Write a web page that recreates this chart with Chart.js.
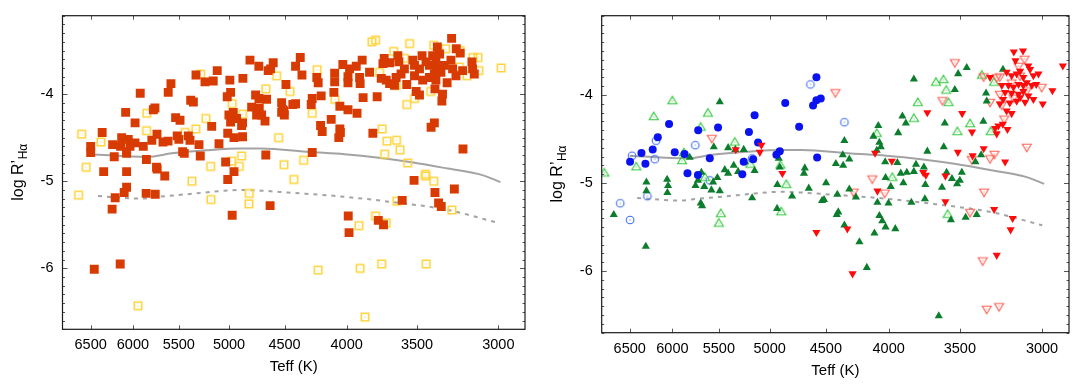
<!DOCTYPE html>
<html><head><meta charset="utf-8">
<script src="https://cdn.jsdelivr.net/npm/chart.js@4.4.1/dist/chart.umd.min.js"></script>
<style>
html,body{margin:0;padding:0;background:#fff;}
#wrap{position:relative;width:1087px;height:384px;overflow:hidden;}
.pane{position:absolute;top:0;height:384px;}
#p1{left:0;width:540px;} #p2{left:540px;width:547px;}
canvas{display:block;}
</style></head><body>
<div id="wrap">
<div class="pane" id="p1"><canvas id="c1" width="540" height="384"></canvas></div>
<div class="pane" id="p2"><canvas id="c2" width="547" height="384"></canvas></div>
</div>
<script>
const FONT = "'Liberation Sans', Arial, Helvetica, sans-serif";
const X_TICKS = [6500, 6000, 5500, 5000, 4500, 4000, 3500, 3000];
const Y_TICKS = [-6, -5, -4];
const Y_MIN = -6.7, Y_MAX = -3.1;
const X_TITLE = 'Teff (K)';
const Y_TITLE_MAIN = 'log R\u2019';
const Y_TITLE_SUB = 'H\u03B1';

// reference curves (shared by both panels)
const SOLID_TEFF = [6500, 5834, 5573, 5220, 4889, 4703, 4290, 4018, 3764, 3525, 3301, 3092, 2988];
const SOLID_LOGR = [-4.69, -4.72, -4.68, -4.645, -4.625, -4.625, -4.665, -4.69, -4.73, -4.785, -4.855, -4.93, -5.01];
const DASH_TEFF = [6410, 6265, 5920, 5727, 5420, 5146, 4897, 4686, 4471, 4080, 3664, 3300, 2999];
const DASH_LOGR = [-5.17, -5.18, -5.20, -5.18, -5.15, -5.12, -5.10, -5.11, -5.13, -5.17, -5.24, -5.33, -5.48];

// left panel
const L_FILLED_TEFF = [4805,4725,4642,4598,4621,4870,4992,5113,5323,5233,5152,5582,5611,5917,5377,5350,4985,5017,4754,4724,4656,4525,4505,4525,5754,5772,6083,5975,5533,5487,5167,5001,4960,4985,4929,4873,4882,4790,4721,4745,4700,4670,6360,6500,6500,6235,6129,6053,6141,6033,5976,6072,5883,5788,5732,5667,5613,5516,5499,5401,5384,5293,5096,5012,4953,4873,6216,6072,5848,5460,5443,5280,5032,4663,6342,6072,5737,5730,5648,4953,6072,6100,6205,6241,5851,5751,5012,4970,4625,6456,6146,
3278,3249,3225,3368,3353,4368,4407,4354,4488,4233,4222,4092,4092,4029,3978,3928,3884,3990,3990,3903,3899,3830,3725,3734,3687,3630,3623,3746,3711,3687,3653,3642,3608,3585,3569,3528,3517,3484,3467,3441,3419,3398,3377,3372,3345,3324,3282,3272,3251,3210,3154,3140,3150,3517,3463,3419,3387,3377,3306,3506,3484,3383,3335,3339,4517,4502,4270,4278,4198,4430,4407,4098,4052,3990,3922,3877,3775,4119,4203,4190,4052,4048,4060,3806,3387,3408,3208,4270,3520,3383,3261,3360,3343,3600,3988,3982,3767,3730];
const L_FILLED_LOGR = [-3.61,-3.68,-3.73,-3.64,-3.71,-3.82,-3.84,-3.73,-3.78,-3.86,-3.85,-3.88,-3.98,-3.99,-4.07,-4.09,-3.98,-4.03,-4.01,-4.05,-4.06,-4.10,-4.19,-4.21,-4.16,-4.18,-4.21,-4.33,-4.27,-4.30,-4.37,-4.24,-4.21,-4.32,-4.28,-4.33,-4.36,-4.15,-4.16,-4.24,-4.24,-4.31,-4.44,-4.60,-4.67,-4.58,-4.50,-4.52,-4.60,-4.60,-4.56,-4.66,-4.60,-4.53,-4.46,-4.55,-4.54,-4.48,-4.52,-4.48,-4.53,-4.58,-4.57,-4.45,-4.50,-4.49,-4.72,-4.68,-4.75,-4.66,-4.68,-4.71,-4.78,-4.70,-4.89,-4.89,-4.84,-4.86,-4.94,-4.89,-5.07,-5.13,-5.19,-5.32,-5.14,-5.15,-4.98,-5.39,-5.28,-6.01,-5.95,
-3.36,-3.48,-3.53,-3.46,-3.54,-3.58,-3.68,-3.78,-3.89,-3.81,-3.87,-3.76,-3.86,-3.66,-3.71,-3.68,-3.61,-3.80,-3.87,-3.81,-3.88,-3.75,-3.59,-3.65,-3.64,-3.56,-3.63,-3.82,-3.84,-3.88,-3.90,-3.81,-3.77,-3.71,-3.89,-3.61,-3.67,-3.71,-3.56,-3.63,-3.67,-3.56,-3.63,-3.71,-3.75,-3.67,-3.61,-3.71,-3.79,-3.73,-3.63,-3.77,-3.71,-3.79,-3.84,-3.81,-3.77,-3.84,-3.87,-3.97,-4.01,-3.94,-4.00,-4.08,-4.18,-4.24,-4.05,-4.12,-4.02,-4.12,-4.11,-3.98,-4.14,-4.18,-4.22,-4.04,-4.03,-4.29,-4.36,-4.43,-4.40,-4.44,-4.50,-4.45,-4.33,-4.38,-4.63,-4.67,-4.99,-5.13,-5.09,-5.25,-5.29,-5.22,-5.40,-5.59,-5.45,-5.50];
const L_OPEN_TEFF = [6612,6375,6556,5843,5846,5325,5434,5224,5276,4970,4873,4663,4568,4551,4882,4976,4904,5177,4505,6651,5364,5174,4812,4815,5942,3813,3787,3550,3659,4230,4453,4090,4270,3569,3517,3411,3391,3315,3225,3148,3118,3113,3184,3229,2984,3739,3706,3639,3615,3722,3563,4340,3444,3642,3758,3585,4422,3444,3391,3637,3276,3908,3787,3711,4222,3899,3743,3440,3863];
const L_OPEN_LOGR = [-4.46,-4.55,-4.84,-4.22,-4.42,-4.40,-4.44,-4.28,-3.77,-4.11,-4.23,-3.94,-3.79,-4.50,-4.71,-4.77,-4.83,-4.83,-4.81,-5.16,-5.00,-5.21,-5.14,-5.26,-6.43,-3.40,-3.38,-3.42,-3.51,-3.72,-3.97,-4.06,-4.22,-4.12,-4.05,-3.97,-3.44,-3.48,-3.50,-3.58,-3.58,-3.73,-3.79,-3.69,-3.70,-4.40,-4.54,-4.53,-4.64,-4.69,-4.79,-4.76,-4.92,-3.90,-3.75,-3.59,-4.98,-4.94,-5.00,-5.23,-5.33,-5.51,-5.40,-5.48,-6.02,-6.00,-5.95,-5.95,-6.56];

// right panel
const BLUE_FILLED_TEFF = [4580,4580,4543,4609,4856,4731,5143,5198,5110,5508,5717,6038,6167,6226,5974,6359,6312,6496,5594,5865,4906,4937,4574,5249,5157,5833,5720,5263];
const BLUE_FILLED_LOGR = [-3.80,-4.06,-4.04,-4.12,-4.09,-4.36,-4.23,-4.42,-4.54,-4.37,-4.40,-4.33,-4.48,-4.62,-4.65,-4.66,-4.78,-4.76,-4.72,-4.67,-4.64,-4.68,-4.71,-4.76,-4.73,-4.89,-4.91,-4.90];
const BLUE_OPEN_TEFF = [4632,5748,6187,6202,6472,5167,4346,6288,6617,6496,5594];
const BLUE_OPEN_LOGR = [-3.88,-4.57,-4.52,-4.73,-4.69,-4.72,-4.31,-5.15,-5.23,-5.42,-4.97];
const GREEN_FILLED_TEFF = [5490,5552,5405,5332,5249,5808,4915,4681,5348,5239,5439,5405,5305,5143,5683,4906,3815,3455,3511,3228,3533,3332,3328,3898,3873,3600,3349,4078,3929,4116,4346,4070,4059,3720,3607,4359,4306,4416,4356,4026,3935,3800,3744,4090,3363,3866,3910,3588,3487,6300,6300,6060,6049,6057,6698,6307,5720,5746,5652,5559,5515,5577,5490,5690,5675,5167,4928,4931,4794,4646,4688,4532,4498,4515,4404,4306,4253,4396,4409,4346,4225,4167,4108,4070,4048,4023,3950,4085,4001,3984,4023,3891,3815,3734,3737,3833,3619,3552,3518,3500,3559,3462,3391,3641,3399];
const GREEN_FILLED_LOGR = [-4.08,-4.59,-4.60,-4.62,-4.62,-4.71,-4.72,-4.83,-4.80,-4.76,-4.85,-4.89,-4.87,-4.86,-4.88,-4.82,-3.82,-3.69,-3.76,-3.71,-3.94,-3.98,-4.07,-4.24,-4.32,-4.32,-4.30,-4.35,-4.43,-4.47,-4.52,-4.54,-4.59,-4.64,-4.59,-4.68,-4.73,-4.78,-4.80,-4.76,-4.77,-4.79,-4.82,-4.63,-4.68,-4.88,-4.89,-4.88,-4.88,-4.99,-5.09,-4.96,-5.03,-5.11,-5.36,-5.72,-4.97,-5.03,-5.04,-4.99,-4.94,-5.08,-5.09,-5.23,-5.26,-5.17,-5.02,-5.29,-5.15,-5.06,-4.89,-5.20,-5.00,-5.19,-5.13,-5.07,-5.16,-5.33,-5.36,-5.48,-5.67,-5.96,-5.57,-5.37,-5.43,-5.50,-5.52,-5.22,-5.23,-5.04,-4.94,-5.00,-4.87,-5.02,-5.18,-5.22,-5.05,-4.95,-5.01,-4.97,-5.42,-5.39,-5.36,-6.51,-4.76];
const GREEN_OPEN_TEFF = [6000,6214,5614,5690,5338,5873,5892,6420,6817,4900,5184,3660,3609,3590,3358,3282,3787,3575,3815,3433,3516,3303,4090,5645,4846,4892,5480,5500,3972,3581];
const GREEN_OPEN_LOGR = [-4.07,-4.25,-4.21,-4.37,-4.54,-4.66,-4.75,-4.82,-4.89,-4.80,-4.79,-3.86,-3.83,-3.95,-3.78,-3.86,-4.09,-4.09,-4.27,-4.33,-4.42,-4.42,-4.44,-4.94,-5.02,-5.33,-5.35,-5.46,-4.94,-5.36];
const RED_FILLED_TEFF = [5328,5078,5093,4882,3720,3485,3421,3256,3229,3276,3201,3266,3513,3417,3347,3215,4103,3976,3749,3730,3163,3109,3153,3307,3206,3176,3146,3126,3107,3078,3068,3049,3020,3235,3195,3165,3135,3107,3087,3058,3033,3215,3176,3135,3107,3078,3049,3146,3187,3206,3176,3247,3227,3126,3097,2996,2885,2942,4580,4085,3596,3596,4322,4280,3282,3170,3182,3266];
const RED_FILLED_LOGR = [-4.62,-4.57,-4.65,-4.89,-4.20,-4.21,-4.42,-4.35,-4.33,-4.38,-4.39,-4.44,-4.65,-4.69,-4.61,-4.76,-4.66,-4.75,-4.88,-4.91,-3.51,-3.50,-3.61,-3.80,-3.74,-3.78,-3.76,-3.73,-3.80,-3.67,-3.71,-3.78,-3.76,-3.89,-3.89,-3.91,-3.88,-3.89,-3.86,-3.89,-3.88,-3.97,-3.98,-3.99,-3.96,-4.01,-4.05,-4.07,-4.09,-4.18,-4.21,-4.10,-4.05,-4.03,-4.08,-4.10,-3.67,-3.95,-5.56,-5.09,-4.92,-5.21,-5.52,-6.03,-5.30,-5.40,-5.53,-5.82];
const RED_OPEN_TEFF = [5573,4420,3533,3100,3135,3347,3247,3616,3307,3235,3165,3247,3087,3002,3266,3220,3126,3176,3087,3280,3307,3423,4124,4271,4029,3344,3433,3353,3328,3251];
const RED_OPEN_LOGR = [-4.49,-3.97,-3.63,-3.59,-3.67,-3.79,-3.79,-4.06,-4.08,-4.11,-4.03,-3.99,-3.95,-3.91,-3.80,-4.27,-3.78,-3.86,-4.59,-4.67,-4.72,-4.73,-4.95,-5.10,-5.11,-5.10,-5.33,-5.88,-6.43,-6.40];

const zip = (xs, ys) => xs.map((x, i) => ({x: x, y: ys[i]}));

function openMarker(shape, color, lw) {
  const S = 14, m = S / 2;
  const c = document.createElement('canvas');
  c.width = S; c.height = S;
  const g = c.getContext('2d');
  g.strokeStyle = color; g.fillStyle = color; g.lineWidth = lw;
  g.beginPath();
  if (shape === 'square') g.rect(m - 3.7, m - 3.7, 7.4, 7.4);
  else if (shape === 'circle') g.arc(m, m, 3.8, 0, Math.PI * 2);
  else if (shape === 'tri') { g.moveTo(m, m - 4.8); g.lineTo(m + 4.5, m + 2.8); g.lineTo(m - 4.5, m + 2.8); g.closePath(); }
  else if (shape === 'itri') { g.moveTo(m, m + 4.8); g.lineTo(m + 4.5, m - 2.8); g.lineTo(m - 4.5, m - 2.8); g.closePath(); }
  g.stroke();
  g.fillRect(m - 0.5, m - 0.5, 1, 1);
  return c;
}

function scatterSet(data, style, color, radius, rotation) {
  return { data: data, pointStyle: style, pointRadius: radius, pointHoverRadius: radius,
           backgroundColor: color, borderColor: color, borderWidth: 0, pointBorderWidth: 0,
           rotation: rotation || 0, showLine: false };
}
function curveSet(xs, ys, dash) {
  return { type: 'line', data: zip(xs, ys), showLine: true, pointRadius: 0, fill: false,
           borderColor: '#a3a3a3', borderWidth: 2, borderDash: dash ? [4, 5] : [],
           tension: 0.4, cubicInterpolationMode: 'monotone' };
}

function decorPlugin(cfg) {
  return {
    id: 'decor',
    afterDraw(chart) {
      const ctx = chart.ctx, a = chart.chartArea, x = chart.scales.x, y = chart.scales.y;
      ctx.save();
      ctx.strokeStyle = '#555'; ctx.lineWidth = 1;
      ctx.beginPath();
      X_TICKS.forEach(v => {
        const px = Math.round(x.getPixelForValue(v)) + 0.5;
        ctx.moveTo(px, a.bottom); ctx.lineTo(px, a.bottom - 4);
        ctx.moveTo(px, a.top); ctx.lineTo(px, a.top + 4);
      });
      for (let k = Math.round(Y_MIN * 10); k <= Math.round(Y_MAX * 10); k++) {
        const py = Math.round(y.getPixelForValue(k / 10)) + 0.5;
        const len = (k % 10 === 0) ? 5 : 2.5;
        ctx.moveTo(a.left, py); ctx.lineTo(a.left + len, py);
        ctx.moveTo(a.right, py); ctx.lineTo(a.right - len, py);
      }
      ctx.stroke();
      ctx.strokeStyle = '#1a1a1a'; ctx.lineWidth = 1.2;
      ctx.strokeRect(a.left, a.top, a.right - a.left, a.bottom - a.top);
      ctx.fillStyle = '#000';
      ctx.font = '15px ' + FONT; ctx.textAlign = 'center'; ctx.textBaseline = 'middle';
      ctx.fillText(X_TITLE, (a.left + a.right) / 2, cfg.xTitleY);
      ctx.translate(cfg.yTitleX, (a.top + a.bottom) / 2);
      ctx.rotate(-Math.PI / 2);
      ctx.textAlign = 'left'; ctx.textBaseline = 'alphabetic';
      ctx.font = '16px ' + FONT; const w1 = ctx.measureText(Y_TITLE_MAIN).width;
      ctx.font = '12px ' + FONT; const w2 = ctx.measureText(Y_TITLE_SUB).width;
      const x0 = -(w1 + w2) / 2;
      ctx.font = '16px ' + FONT; ctx.fillText(Y_TITLE_MAIN, x0, 0);
      ctx.font = '12px ' + FONT; ctx.fillText(Y_TITLE_SUB, x0 + w1 + 0.5, 4);
      ctx.restore();
    }
  };
}

function makeChart(id, cfg, datasets) {
  return new Chart(document.getElementById(id), {
    type: 'scatter',
    data: { datasets: datasets },
    options: {
      responsive: false, animation: false, devicePixelRatio: 1,
      layout: { padding: { top: cfg.top, right: cfg.rightPad, left: 0, bottom: 0 } },
      plugins: { legend: { display: false }, tooltip: { enabled: false } },
      scales: {
        x: {
          type: 'logarithmic', reverse: true, min: cfg.xmin, max: cfg.xmax,
          grid: { display: false, drawTicks: false }, border: { display: false },
          ticks: { font: { family: FONT, size: 14.5 }, color: '#000', padding: cfg.xPad, maxRotation: 0, autoSkip: false,
                   callback: v => String(v) },
          afterBuildTicks: s => { s.ticks = X_TICKS.map(v => ({ value: v })); },
          afterFit: s => { s.height = cfg.xAxisH; s.paddingLeft = 0; s.paddingRight = 0; s.paddingTop = 0; s.paddingBottom = 0; }
        },
        y: {
          min: Y_MIN, max: Y_MAX,
          grid: { display: false, drawTicks: false }, border: { display: false },
          ticks: { font: { family: FONT, size: 14.5 }, color: '#000', padding: 9, callback: v => String(v) },
          afterBuildTicks: s => { s.ticks = Y_TICKS.map(v => ({ value: v })); },
          afterFit: s => { s.width = cfg.yAxisW; s.paddingLeft = 0; s.paddingRight = 0; s.paddingTop = 0; s.paddingBottom = 0; }
        }
      }
    },
    plugins: [decorPlugin(cfg)]
  });
}

const YELLOW_SQ = openMarker('square', '#ffd43c', 1.6);
const BLUE_CI = openMarker('circle', '#3d6cf0', 1.1);
const GREEN_TR = openMarker('tri', '#30c83c', 1.1);
const RED_TR = openMarker('itri', '#ff5f52', 1.1);

makeChart('c1', { top: 15.7, rightPad: 15, yAxisW: 62.5, xAxisH: 54.7, xmin: 2852, xmax: 6857, xPad: 7.3, xTitleY: 366.5, yTitleX: 23 }, [
  scatterSet(zip(L_FILLED_TEFF, L_FILLED_LOGR), 'rect', '#d83b02', 6.3),
  scatterSet(zip(L_OPEN_TEFF, L_OPEN_LOGR), YELLOW_SQ, '#ffd43c', 4),
  curveSet(SOLID_TEFF, SOLID_LOGR, false),
  curveSet(DASH_TEFF, DASH_LOGR, true)
]);

makeChart('c2', { top: 15.7, rightPad: 18, yAxisW: 61.7, xAxisH: 51.3, xmin: 2852, xmax: 6851, xPad: 7.2, xTitleY: 370.5, yTitleX: 22 }, [
  scatterSet(zip(RED_FILLED_TEFF, RED_FILLED_LOGR), 'triangle', '#ff0a0a', 4.7, 180),
  scatterSet(zip(BLUE_FILLED_TEFF, BLUE_FILLED_LOGR), 'circle', '#0a12f0', 4),
  scatterSet(zip(GREEN_FILLED_TEFF, GREEN_FILLED_LOGR), 'triangle', '#0b7d2c', 4.7),
  scatterSet(zip(RED_OPEN_TEFF, RED_OPEN_LOGR), RED_TR, '#ff5f52', 4),
  scatterSet(zip(GREEN_OPEN_TEFF, GREEN_OPEN_LOGR), GREEN_TR, '#30c83c', 4),
  scatterSet(zip(BLUE_OPEN_TEFF, BLUE_OPEN_LOGR), BLUE_CI, '#3d6cf0', 4),
  curveSet(SOLID_TEFF, SOLID_LOGR, false),
  curveSet(DASH_TEFF, DASH_LOGR, true)
]);
</script>
</body></html>
